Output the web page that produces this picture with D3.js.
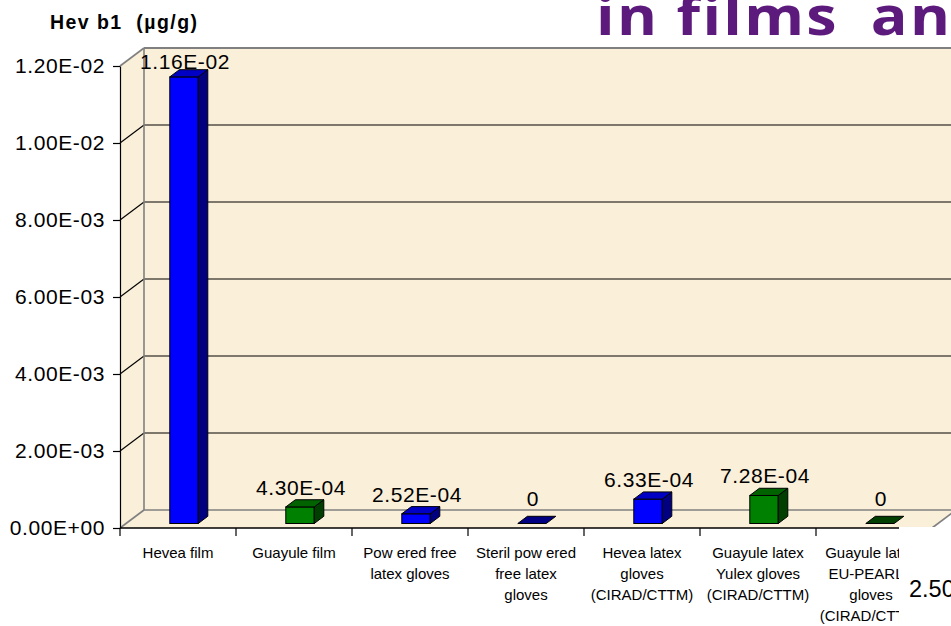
<!DOCTYPE html>
<html>
<head>
<meta charset="utf-8">
<script src="https://cdn.jsdelivr.net/npm/d3@7"></script>
<style>
  body { margin: 0; background: #fff; }
  svg { display: block; font-family: "Liberation Sans", Arial, sans-serif; }
</style>
</head>
<body>
<svg id="chart" width="951" height="626"></svg>
<script>
// Hev b1 allergen content per sample (µg/g)
const categories = [
  ["Hevea film"],
  ["Guayule film"],
  ["Pow ered free", "latex gloves"],
  ["Steril pow ered", "free latex", "gloves"],
  ["Hevea latex", "gloves", "(CIRAD/CTTM)"],
  ["Guayule latex", "Yulex gloves", "(CIRAD/CTTM)"],
  ["Guayule latex", "EU-PEARLS", "gloves", "(CIRAD/CTTM)"]
];
const hevB1 = [1.16e-2, 4.30e-4, 2.52e-4, 0, 6.33e-4, 7.28e-4, 0];
const latexSource = ["Hevea", "Guayule", "Hevea", "Hevea", "Hevea", "Guayule", "Guayule"];
const yTicks = [0, 0.002, 0.004, 0.006, 0.008, 0.010, 0.012];
const yTickLabels = ["0.00E+00", "2.00E-03", "4.00E-03", "6.00E-03", "8.00E-03", "1.00E-02", "1.20E-02"];
const headingWords = ["in", "films", "and"];

const palette = {
  Hevea:   { front: "#0000FF", top: "#0000C4", side: "#000080" },
  Guayule: { front: "#008000", top: "#006300", side: "#003F00" }
};
const wallFill = "#FAEFD8";
const wallEdge = "#808080";

// value label text: "0" or mantissa with 2 decimals and a two-digit exponent
function sci(v) {
  if (v === 0) return "0";
  const [m, e] = v.toExponential(2).toUpperCase().split("E");
  const n = +e;
  return m + "E" + (n < 0 ? "-" : "+") + String(Math.abs(n)).padStart(2, "0");
}

const svg = d3.select("#chart");
const keys = categories.map(c => c.join(" "));

// front plane of the 3-D plot box
const x = d3.scaleBand().domain(keys).range([120, 932]).padding(0);
const y = d3.scaleLinear().domain([0, 0.012]).range([528, 66]);
const DX = 24, DY = -18;          // depth of the box
const fFront = 0.25, fBack = 0.65; // depth span of the bars
const barW = x.bandwidth() * 0.245;

const [xl, xr] = x.range();
const yb = y(0), yt = y(0.012);

// walls and floor
const g = svg.append("g");
g.append("rect").attr("x", xl + DX).attr("y", yt + DY)
  .attr("width", xr - xl).attr("height", yb - yt).attr("fill", wallFill);
g.append("path").attr("fill", wallFill)
  .attr("d", `M${xl},${yt}L${xl + DX},${yt + DY}L${xl + DX},${yb + DY}L${xl},${yb}Z`);
g.append("path").attr("fill", wallFill)
  .attr("d", `M${xl},${yb}L${xr},${yb}L${xr + DX},${yb + DY}L${xl + DX},${yb + DY}Z`);

// gridlines on back and side walls
yTicks.forEach(v => {
  const edge = v === 0 || v === 0.012;
  const c = edge ? wallEdge : "#000";
  const w = edge ? 1.6 : 1.1;
  g.append("line").attr("x1", xl + DX).attr("x2", xr + DX + 20)
    .attr("y1", y(v) + DY).attr("y2", y(v) + DY).attr("stroke", c).attr("stroke-width", v === 0.012 ? 2.2 : w);
  g.append("line").attr("x1", xl).attr("y1", y(v)).attr("x2", xl + DX).attr("y2", y(v) + DY)
    .attr("stroke", c).attr("stroke-width", w);
});
g.append("line").attr("x1", xl + DX).attr("x2", xl + DX).attr("y1", yt + DY).attr("y2", yb + DY)
  .attr("stroke", wallEdge).attr("stroke-width", 1.6);
g.append("line").attr("x1", xr).attr("y1", yb).attr("x2", xr + DX).attr("y2", yb + DY)
  .attr("stroke", wallEdge).attr("stroke-width", 1.6);

// value axis
const yAxis = d3.axisLeft(y).tickValues(yTicks)
  .tickFormat((d, i) => yTickLabels[i]).tickSize(7).tickPadding(8).tickSizeOuter(0);
const ya = svg.append("g").attr("transform", `translate(${xl},0)`).call(yAxis);
ya.select(".domain").attr("stroke", "#000").attr("stroke-width", 1.2);
ya.selectAll(".tick line").attr("stroke", "#000").attr("stroke-width", 1.2);
ya.selectAll(".tick text").attr("font-size", 21).attr("fill", "#000")
  .attr("font-family", "'Liberation Sans', Arial, sans-serif").style("letter-spacing", "0.6px");

// category axis with ticks on band boundaries
const ca = svg.append("g");
ca.append("line").attr("x1", xl).attr("x2", xr).attr("y1", yb).attr("y2", yb)
  .attr("stroke", "#000").attr("stroke-width", 1.3);
keys.map(k => x(k)).concat([xr]).forEach(bx => {
  ca.append("line").attr("x1", bx).attr("x2", bx).attr("y1", yb).attr("y2", yb + 8)
    .attr("stroke", "#000").attr("stroke-width", 1.2);
});
categories.forEach((lines, i) => {
  const t = ca.append("text").attr("text-anchor", "middle").attr("font-size", 15).attr("fill", "#000");
  lines.forEach((ln, j) => {
    t.append("tspan").attr("x", x(keys[i]) + x.bandwidth() / 2 - (i === categories.length - 1 ? 3 : 0))
      .attr("y", 558 + j * 21).text(ln);
  });
});

// 3-D bars
const bars = svg.append("g");
hevB1.forEach((v, i) => {
  const col = palette[latexSource[i]];
  const cx = x(keys[i]) + x.bandwidth() / 2 + DX * fFront;
  const left = cx - barW / 2, right = cx + barW / 2;
  const y0 = y(0) + DY * fFront;
  const y1 = y(v) + DY * fFront;
  const bdx = DX * (fBack - fFront), bdy = DY * (fBack - fFront);
  if (y0 - y1 > 0.5) {
    bars.append("rect").attr("x", left).attr("y", y1).attr("width", barW).attr("height", y0 - y1)
      .attr("fill", col.front).attr("stroke", "#000").attr("stroke-width", 1);
    bars.append("path")
      .attr("d", `M${right},${y1}L${right + bdx},${y1 + bdy}L${right + bdx},${y0 + bdy}L${right},${y0}Z`)
      .attr("fill", col.side).attr("stroke", "#000").attr("stroke-width", 1).attr("stroke-linejoin", "round");
  }
  bars.append("path")
    .attr("d", `M${left},${y1}L${left + bdx},${y1 + bdy}L${right + bdx},${y1 + bdy}L${right},${y1}Z`)
    .attr("fill", y0 - y1 > 0.5 ? col.top : col.side)
    .attr("stroke", "#000").attr("stroke-width", 1).attr("stroke-linejoin", "round");

  const base = Math.max(Math.min(y1 - 12, y(0) - 22), 69);
  bars.append("text").attr("x", cx + 1).attr("y", base).attr("text-anchor", "middle")
    .attr("font-size", 21).attr("fill", "#000").style("letter-spacing", "0.6px").text(sci(v));
});

// value axis title
svg.append("text").attr("x", 50).attr("y", 29).attr("font-size", 19.5).attr("font-weight", "bold")
  .attr("fill", "#000").style("white-space", "pre")
  .attr("textLength", 147).attr("lengthAdjust", "spacing").text("Hev b1  (µg/g)");

// slide heading above the chart, one tspan per word
const wordX = [0, 70, 239];
const heading = svg.append("text").attr("transform", "translate(596,35) scale(1.15,1)")
  .attr("font-family", "'Open Sans', sans-serif").attr("font-weight", 700).attr("font-size", 53)
  .attr("fill", "#5D1A7D").style("letter-spacing", "2px");
headingWords.forEach((w, i) => heading.append("tspan").attr("x", wordX[i]).text(w));

// panel overlapping the lower-right corner
svg.append("rect").attr("x", 899).attr("y", 527).attr("width", 60).attr("height", 110).attr("fill", "#fff");
svg.append("text").attr("x", 909).attr("y", 597).attr("font-size", 23.5).attr("fill", "#000").text("2.50");
</script>
</body>
</html>
